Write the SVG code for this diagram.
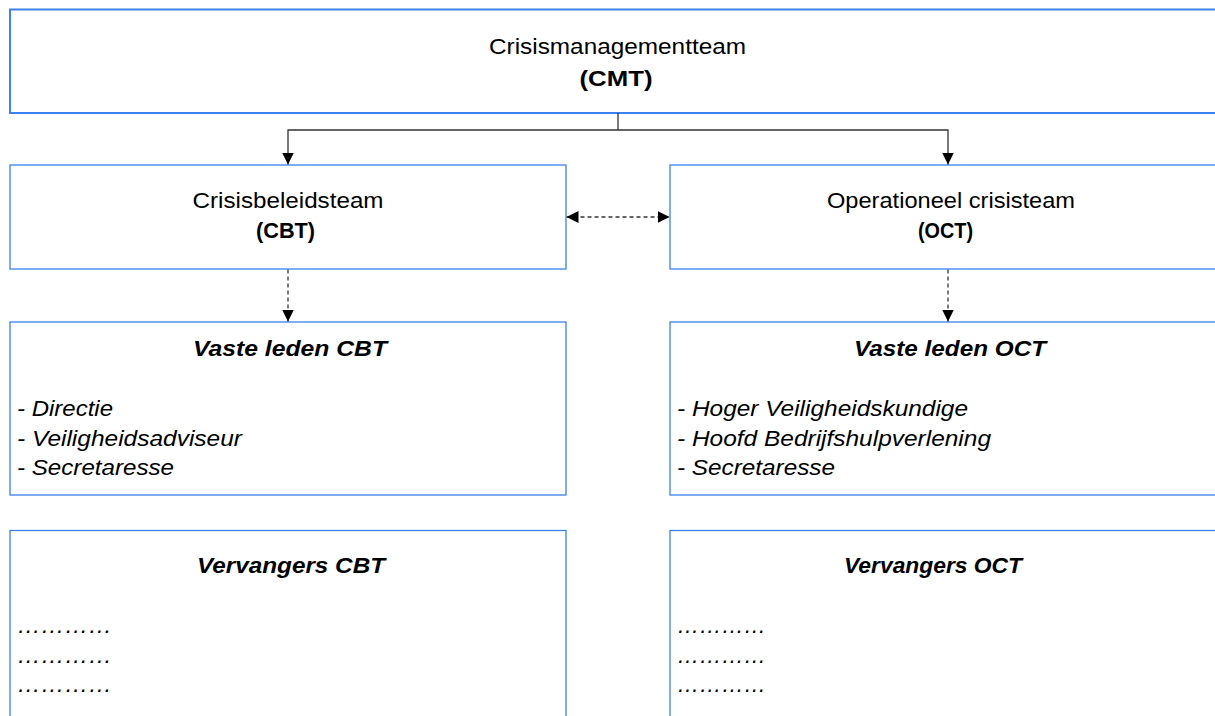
<svg xmlns="http://www.w3.org/2000/svg" width="1215" height="716" viewBox="0 0 1215 716">
<style>
.box{fill:#fff;stroke:#3a82f2;stroke-width:1.3}
.top{stroke-width:2}
.t{font-family:"Liberation Sans",Arial,sans-serif;font-size:22.5px;fill:#000}
.c{text-anchor:middle}
.b{font-weight:bold}
.i{font-style:italic}
.ln{fill:none;stroke:#333;stroke-width:1.3}
.d{stroke-dasharray:4 3}
</style>
<defs>
<marker id="ah" viewBox="0 0 12 12" refX="12" refY="6" markerWidth="12" markerHeight="12" markerUnits="userSpaceOnUse" orient="auto-start-reverse">
<path d="M0,0 L12,6 L0,12 Z" fill="#000"/>
</marker>
</defs>
<rect width="1215" height="716" fill="#fff"/>
<g id="cmt">
<rect class="box top" x="10" y="9.5" width="1215" height="103.5"/>
<text class="t c" x="617.5" y="54" textLength="257" lengthAdjust="spacingAndGlyphs">Crisismanagementteam</text>
<text class="t c b" x="616" y="86" textLength="73" lengthAdjust="spacingAndGlyphs">(CMT)</text>
</g>
<g id="cbt">
<rect class="box" x="10" y="165" width="556" height="104"/>
<text class="t c" x="288" y="208" textLength="191" lengthAdjust="spacingAndGlyphs">Crisisbeleidsteam</text>
<text class="t c b" x="285.5" y="238" textLength="59" lengthAdjust="spacingAndGlyphs">(CBT)</text>
</g>
<g id="oct">
<rect class="box" x="670" y="165" width="560" height="104"/>
<text class="t c" x="951" y="208" textLength="248" lengthAdjust="spacingAndGlyphs">Operationeel crisisteam</text>
<text class="t c b" x="945.5" y="238" textLength="55" lengthAdjust="spacingAndGlyphs">(OCT)</text>
</g>
<g id="vaste-cbt">
<rect class="box" x="10" y="322" width="556" height="173"/>
<text class="t c b i" x="290" y="356" textLength="194" lengthAdjust="spacingAndGlyphs">Vaste leden CBT</text>
<text class="t i" x="17" y="416" textLength="96" lengthAdjust="spacingAndGlyphs">- Directie</text>
<text class="t i" x="17" y="446" textLength="225" lengthAdjust="spacingAndGlyphs">- Veiligheidsadviseur</text>
<text class="t i" x="17" y="475" textLength="157" lengthAdjust="spacingAndGlyphs">- Secretaresse</text>
</g>
<g id="vaste-oct">
<rect class="box" x="670" y="322" width="560" height="173"/>
<text class="t c b i" x="950" y="356" textLength="192" lengthAdjust="spacingAndGlyphs">Vaste leden OCT</text>
<text class="t i" x="677" y="416" textLength="291" lengthAdjust="spacingAndGlyphs">- Hoger Veiligheidskundige</text>
<text class="t i" x="677" y="446" textLength="314" lengthAdjust="spacingAndGlyphs">- Hoofd Bedrijfshulpverlening</text>
<text class="t i" x="677" y="475" textLength="158" lengthAdjust="spacingAndGlyphs">- Secretaresse</text>
</g>
<g id="verv-cbt">
<rect class="box" x="10" y="530.5" width="556" height="200"/>
<text class="t c b i" x="291" y="573" textLength="188" lengthAdjust="spacingAndGlyphs">Vervangers CBT</text>
<text class="t i" x="17" y="633" textLength="95" lengthAdjust="spacingAndGlyphs">…………</text>
<text class="t i" x="17" y="662.5" textLength="95" lengthAdjust="spacingAndGlyphs">…………</text>
<text class="t i" x="17" y="691.5" textLength="95" lengthAdjust="spacingAndGlyphs">…………</text>
</g>
<g id="verv-oct">
<rect class="box" x="670" y="530.5" width="560" height="200"/>
<text class="t c b i" x="933" y="573" textLength="178" lengthAdjust="spacingAndGlyphs">Vervangers OCT</text>
<text class="t i" x="677" y="633" textLength="89" lengthAdjust="spacingAndGlyphs">…………</text>
<text class="t i" x="677" y="662.5" textLength="89" lengthAdjust="spacingAndGlyphs">…………</text>
<text class="t i" x="677" y="691.5" textLength="89" lengthAdjust="spacingAndGlyphs">…………</text>
</g>
<g id="connectors">
<path class="ln" d="M618,113 V130"/>
<path class="ln" d="M618,130 H288 V164.5" marker-end="url(#ah)"/>
<path class="ln" d="M618,130 H948 V164.5" marker-end="url(#ah)"/>
<path class="ln d" d="M566.5,217 H669.5" marker-start="url(#ah)" marker-end="url(#ah)"/>
<path class="ln d" d="M288,269.5 V321.5" marker-end="url(#ah)"/>
<path class="ln d" d="M948,269.5 V321.5" marker-end="url(#ah)"/>
</g>
</svg>
